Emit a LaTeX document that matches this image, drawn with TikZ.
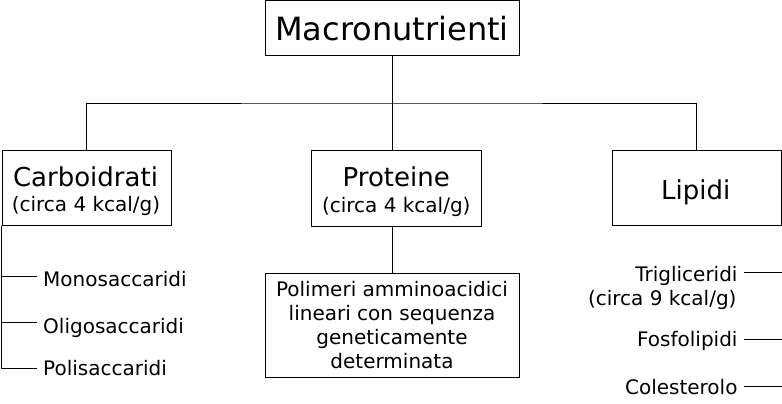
\documentclass[tikz,border=0pt]{standalone}
\usepackage{fontspec}
\setmainfont{DejaVu Sans}
\begin{document}
\begin{tikzpicture}[x=1pt,y=-1pt,
  box/.style={draw, line width=1pt, inner sep=0pt},
  ln/.style={line width=1pt},
  big/.style={font=\fontsize{32}{38}\selectfont},
  mid/.style={font=\fontsize{26}{31}\selectfont, inner sep=0pt},
  small/.style={font=\fontsize{20}{24}\selectfont, inner sep=0pt}]
\useasboundingbox (0,0) rectangle (782,404);
% boxes
\node[box, big, minimum width=254pt, minimum height=55pt] (macro) at (392,28.5) {Macronutrienti};
\node[box, minimum width=169pt, minimum height=75pt] (carb) at (86.5,187.5) {};
\node[box, minimum width=170pt, minimum height=76pt] (prot) at (396.5,188) {};
\node[box, minimum width=169.5pt, minimum height=75pt] (lip) at (696.75,187.5) {};
\node[box, small, align=center, minimum width=254pt, minimum height=104pt] (poli) at (392,325)
  {Polimeri amminoacidici\\lineari con sequenza\\geneticamente\\determinata};
% box texts
\node[mid, anchor=base] (carbt) at (85.5,186.7) {Carboidrati};
\node[small, anchor=base] (carbk) at (86,211.7) {(circa 4 kcal/g)};
\node[mid, anchor=base] (prott) at (396.3,186.7) {Proteine};
\node[small, anchor=base] (protk) at (396.3,212.7) {(circa 4 kcal/g)};
\node[mid, anchor=base] (lipt) at (695.8,199.3) {Lipidi};
% sub items
\node[small, anchor=base west] (mono) at (43,286.7) {Monosaccaridi};
\node[small, anchor=base west] (oligo) at (43,333.3) {Oligosaccaridi};
\node[small, anchor=base west] (polis) at (43,375) {Polisaccaridi};
\node[small, anchor=base east] (tri) at (737.7,281.7) {Trigliceridi};
\node[small, anchor=base east] (trik) at (736.7,305.7) {(circa 9 kcal/g)};
\node[small, anchor=base east] (fos) at (737.7,346.7) {Fosfolipidi};
\node[small, anchor=base east] (col) at (737.7,394) {Colesterolo};
% junction coordinates
\coordinate (bar) at (392,103);
\coordinate (m1) at (37.3,276);
\coordinate (m2) at (37.3,322.7);
\coordinate (m3) at (37.3,368.3);
\coordinate (l1) at (744,272.3);
\coordinate (l2) at (744,339);
\coordinate (l3) at (744,386.7);
% connectors
\draw[ln] (macro.south) -- (macro.south |- prot.north);
\draw[ln] (carb.north) |- (bar) -| (lip.north);
\draw[ln] (poli.north) -- (poli.north |- prot.south);
\draw[ln] (carb.south west) |- (m1);
\draw[ln] (carb.south west) |- (m2);
\draw[ln] (carb.south west) |- (m3);
\draw[ln] (lip.south east) |- (l1);
\draw[ln] (lip.south east) |- (l2);
\draw[ln] (lip.south east) |- (l3);
\end{tikzpicture}
\end{document}
